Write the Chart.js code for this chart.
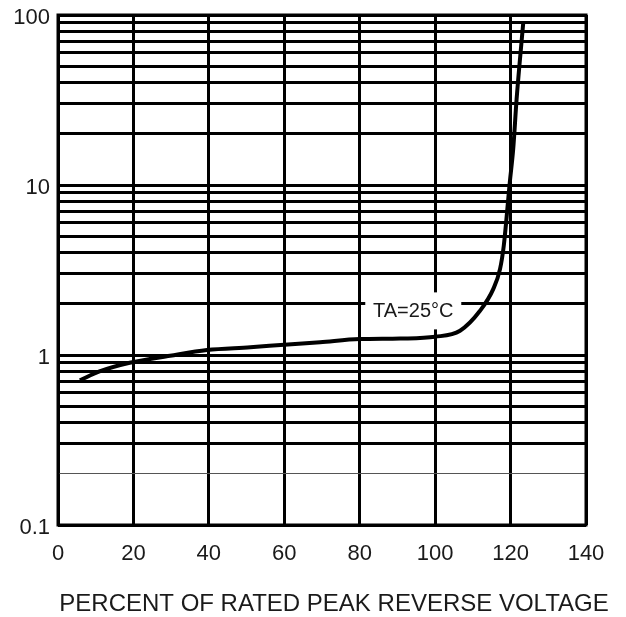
<!DOCTYPE html>
<html>
<head>
<meta charset="utf-8">
<script src="https://cdn.jsdelivr.net/npm/chart.js@4/dist/chart.umd.min.js"></script>
<style>
  html, body { margin: 0; padding: 0; background: #fff; }
  #wrap { width: 626px; height: 617px; }
</style>
</head>
<body>
<div id="wrap"><canvas id="chart"></canvas></div>
<script>
// percent of rated peak reverse voltage
const voltagePct = [5.8, 11, 19, 29.7, 39.5, 51, 60, 69.5, 80, 90.7, 100, 106.6, 111.9, 115.4, 117.2, 118.2, 119.8, 120.7, 121.6, 123.4];
// leakage current, log scale
const current = [0.71, 0.8, 0.9, 0.99, 1.07, 1.11, 1.15, 1.19, 1.24, 1.25, 1.28, 1.39, 1.82, 2.44, 3.2, 4.4, 10.4, 16.3, 32, 92];

const xTicks = [0, 20, 40, 60, 80, 100, 120, 140];
const yTickLabels = ["0.1", "1", "10", "100"];
const curveLabel = "TA=25°C";
const xTitle = "PERCENT OF RATED PEAK REVERSE VOLTAGE";

const FONT = "Liberation Sans, Arial, sans-serif";
const BLACK = "#000";
const TEXT = "#1a1a1a";

const majorValues = yTickLabels.map(Number);

function yGridTicks() {
  const out = [];
  for (let d = 0.1; d < 100; d *= 10) {
    for (let m = 1; m < 10; m++) out.push({ value: +(m * d).toPrecision(3) });
  }
  out.push({ value: 100 });
  return out;
}

function labelPos(scales) {
  return { px: scales.x.getPixelForValue(94.2), py: scales.y.getPixelForValue(1.83) };
}

// label on the curve with a white patch behind it, frame and the axis title
const notes = {
  id: "notes",
  beforeDatasetsDraw(chart) {
    const { ctx, scales } = chart;
    const { px, py } = labelPos(scales);
    ctx.save();
    ctx.fillStyle = "#fff";
    ctx.fillRect(px - 48, py - 18, 96, 37);
    ctx.restore();
  },
  afterDatasetsDraw(chart) {
    const { ctx, scales, chartArea: a } = chart;
    const { px, py } = labelPos(scales);
    ctx.save();
    ctx.font = "20px " + FONT;
    ctx.textAlign = "center";
    ctx.textBaseline = "middle";
    ctx.fillStyle = TEXT;
    ctx.fillText(curveLabel, px, py + 1);

    ctx.strokeStyle = BLACK;
    ctx.lineWidth = 3;
    ctx.strokeRect(a.left, a.top, a.right - a.left, a.bottom - a.top);

    ctx.font = "24px " + FONT;
    ctx.fillText(xTitle, (a.left + a.right) / 2 + 12, a.bottom + 79);
    ctx.restore();
  },
};

new Chart(document.getElementById("chart"), {
  type: "line",
  data: {
    datasets: [{
      data: voltagePct.map((v, i) => ({ x: v, y: current[i] })),
      borderColor: BLACK,
      borderWidth: 4,
      pointRadius: 0,
      cubicInterpolationMode: "monotone",
      fill: false,
    }],
  },
  options: {
    responsive: true,
    maintainAspectRatio: false,
    animation: false,
    layout: { padding: { top: 15, right: 40, left: 0, bottom: 0 } },
    plugins: { legend: { display: false }, tooltip: { enabled: false } },
    scales: {
      x: {
        type: "linear",
        min: 0,
        max: 140,
        afterBuildTicks: (s) => { s.ticks = xTicks.map((v) => ({ value: v })); },
        afterFit: (s) => { s.height = 92; },
        border: { display: false },
        grid: { color: BLACK, lineWidth: 3, drawTicks: false },
        ticks: {
          color: TEXT,
          padding: 16,
          maxRotation: 0,
          font: { size: 22, family: FONT },
        },
      },
      y: {
        type: "logarithmic",
        min: 0.1,
        max: 100,
        afterBuildTicks: (s) => { s.ticks = yGridTicks(); },
        afterFit: (s) => {
          s.width = 58;
          s.paddingTop = 0;
          s.paddingBottom = 0;
        },
        border: { display: false },
        grid: {
          drawTicks: false,
          color: (c) => (Math.abs(c.tick.value - 0.2) < 1e-9 ? "#555" : BLACK),
          lineWidth: (c) => (Math.abs(c.tick.value - 0.2) < 1e-9 ? 1 : 3),
        },
        ticks: {
          color: TEXT,
          padding: 8,
          labelOffset: 3,
          autoSkip: false,
          font: { size: 22, family: FONT },
          callback: (v) => {
            const i = majorValues.findIndex((m) => Math.abs(m - v) < 1e-9);
            return i >= 0 ? yTickLabels[i] : "";
          },
        },
      },
    },
  },
  plugins: [notes],
});
</script>
</body>
</html>
